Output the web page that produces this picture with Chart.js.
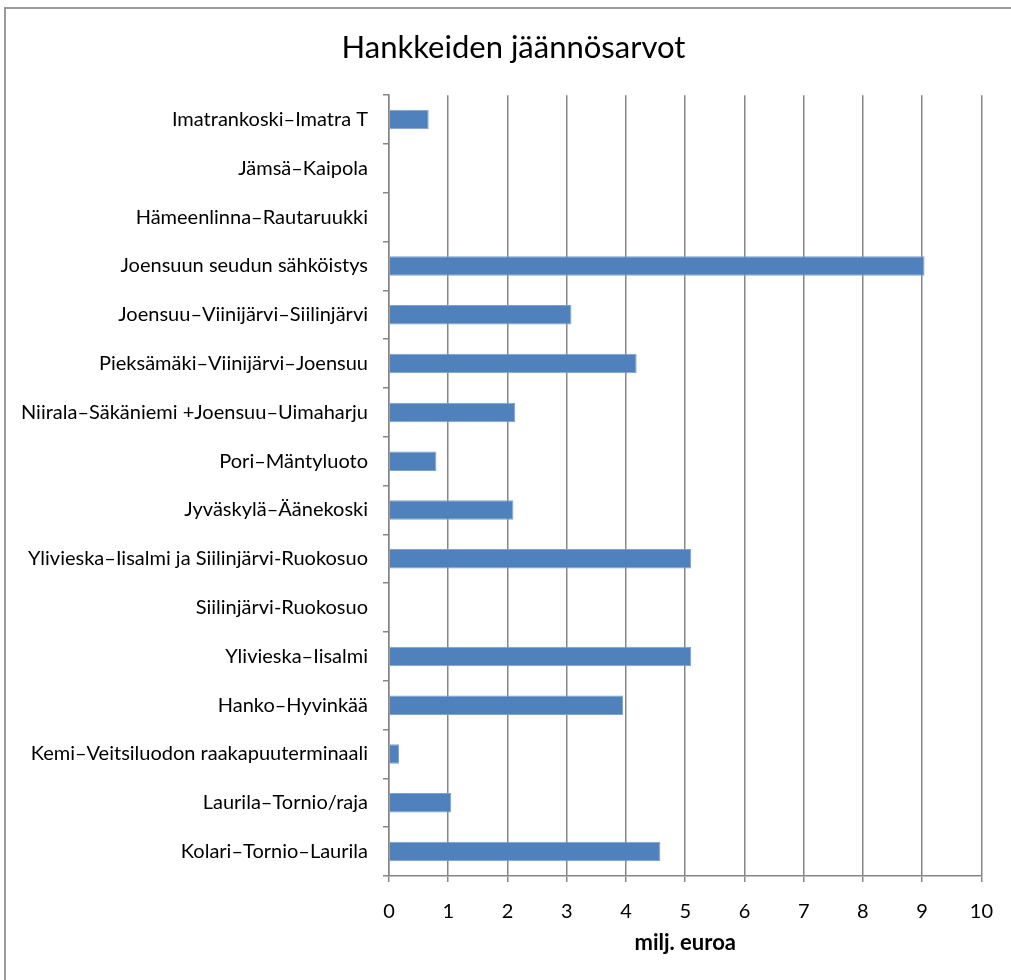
<!DOCTYPE html>
<html>
<head>
<meta charset="utf-8">
<script src="https://cdn.jsdelivr.net/npm/chart.js@4"></script>
<style>
    body { margin: 0; background: #fff; }
    #frame {
        position: absolute; left: 4px; top: 7px; width: 1100px; height: 1100px;
        border-left: 2px solid #9a9a9a; border-top: 2px solid #9a9a9a;
    }
    #wrap { position: absolute; left: 0; top: 0; width: 1011px; height: 980px; }
</style>
</head>
<body>
<div id="frame"></div>
<div id="wrap"><canvas id="chart" width="1011" height="980"></canvas></div>
<script>
// Hankkeet ylhäältä alas
const categories = [
    "Imatrankoski–Imatra T",
    "Jämsä–Kaipola",
    "Hämeenlinna–Rautaruukki",
    "Joensuun seudun sähköistys",
    "Joensuu–Viinijärvi–Siilinjärvi",
    "Pieksämäki–Viinijärvi–Joensuu",
    "Niirala–Säkäniemi +Joensuu–Uimaharju",
    "Pori–Mäntyluoto",
    "Jyväskylä–Äänekoski",
    "Ylivieska–Iisalmi ja Siilinjärvi-Ruokosuo",
    "Siilinjärvi-Ruokosuo",
    "Ylivieska–Iisalmi",
    "Hanko–Hyvinkää",
    "Kemi–Veitsiluodon raakapuuterminaali",
    "Laurila–Tornio/raja",
    "Kolari–Tornio–Laurila"
];
// jäännösarvot, milj. euroa
const values = [0.67, 0, 0, 9.04, 3.08, 4.18, 2.13, 0.80, 2.10, 5.10, 0, 5.10, 3.95, 0.17, 1.05, 4.58];
const xTicks = [0, 1, 2, 3, 4, 5, 6, 7, 8, 9, 10];

const gridColour = "#868686";
const font = "Lato, 'Open Sans', sans-serif";

// The left padding only centres the title; let the long category
// labels use that space too (otherwise they get clipped at scale.left)
const unclipLabels = {
    id: 'unclipLabels',
    afterLayout: function(chart) {
        chart.scales.y.left = 0;
    }
};

window.onload = function() {
    const ctx = document.getElementById('chart').getContext('2d');
    new Chart(ctx, {
        type: 'bar',
        data: {
            labels: categories,
            datasets: [{
                label: 'Jäännösarvo',
                data: values,
                backgroundColor: '#4F81BD',
                borderColor: '#7fa1cd',
                borderWidth: 1,
                barPercentage: 0.4,
                categoryPercentage: 1.0
            }]
        },
        plugins: [unclipLabels],
        options: {
            indexAxis: 'y',
            responsive: false,
            animation: false,
            layout: { padding: { left: 39, right: 23, top: 0, bottom: 20 } },
            plugins: {
                legend: { display: false },
                tooltip: { enabled: false },
                title: {
                    display: true,
                    text: 'Hankkeiden jäännösarvot',
                    color: '#000',
                    font: { family: font, size: 31, weight: 'normal' },
                    padding: { top: 29, bottom: 29 }
                }
            },
            scales: {
                x: {
                    min: 0,
                    max: 10,
                    afterBuildTicks: function(scale) {
                        scale.ticks = xTicks.map(function(v) { return { value: v }; });
                    },
                    afterFit: function(scale) { scale.height = 84; },
                    grid: { color: gridColour, lineWidth: 1.5, tickLength: 6 },
                    border: { color: gridColour, width: 1.5 },
                    ticks: { color: '#000', padding: 18, font: { family: font, size: 20 } },
                    title: {
                        display: true,
                        text: 'milj. euroa',
                        color: '#000',
                        font: { family: font, size: 22, weight: 'bold' },
                        padding: { top: 4, bottom: 4 }
                    }
                },
                y: {
                    afterFit: function(scale) { scale.width = 350; },
                    grid: { drawOnChartArea: false, color: gridColour, lineWidth: 1.5, tickLength: 6, offset: true },
                    border: { color: gridColour, width: 1.5 },
                    ticks: { color: '#000', padding: 15, font: { family: font, size: 20 } }
                }
            }
        }
    });
}
</script>
</body>
</html>
